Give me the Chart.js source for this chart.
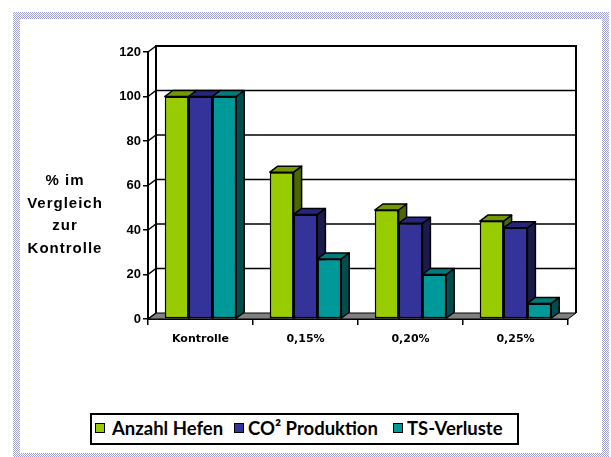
<!DOCTYPE html>
<html lang="de">
<head>
<meta charset="UTF-8">
<title>% im Vergleich zur Kontrolle</title>
<style>
    body { margin: 0; background: #fff; }
    #wrap { position: relative; width: 611px; height: 457px; overflow: hidden; }
    .frame {
        position: absolute; left: 13px; top: 12px; width: 596px; height: 448px;
        background-image: conic-gradient(#a0a0da 25%, #fff 0 50%, #a0a0da 0 75%, #fff 0);
        background-size: 2px 2px;
    }
    .frame-inner { position: absolute; left: 7px; top: 7px; right: 7px; bottom: 7px; background: #fff; }
    #chart { position: absolute; left: 0; top: 0; }
    .ytitle {
        position: absolute; left: 10px; top: 169px; width: 110px;
        text-align: center; font: bold 15px 'Liberation Sans', Arial, sans-serif;
        letter-spacing: 1px; line-height: 22.6px; color: #000;
    }
    .legend {
        position: absolute; left: 90px; top: 413px; width: 425px; height: 28px;
        border: 2px solid #000; background: #fff;
        font: bold 18.5px Lato, 'Open Sans', sans-serif; color: #000;
    }
    .legend .sw { position: absolute; top: 8px; width: 8px; height: 8px; border: 1px solid #000; }
    .legend .lb { position: absolute; top: 3px; line-height: 21px; white-space: nowrap; }
</style>
<script src="https://cdn.jsdelivr.net/npm/chart.js"></script>
</head>
<body>
<div id="wrap">
    <div class="frame"><div class="frame-inner"></div></div>
    <canvas id="chart" width="611" height="457"></canvas>
    <div class="ytitle">% im<br>Vergleich<br>zur<br>Kontrolle</div>
    <div class="legend" id="legend"></div>
</div>
<script>
    // Daten
    const categories = ['Kontrolle', '0,15%', '0,20%', '0,25%'];
    const anzahlHefen = [100, 66, 49, 44];
    const co2Produktion = [100, 47, 43, 41];
    const tsVerluste = [100, 27, 20, 7];
    const seriesNames = ['Anzahl Hefen', 'CO² Produktion', 'TS-Verluste'];
    const yMax = 120;
    const yStep = 20;

    // Farben: Vorderseite, Oberseite, Seite
    const fronts = ['#99cc00', '#333399', '#009999'];
    const tops = ['#739900', '#26267a', '#007a7a'];
    const sides = ['#4d6600', '#1a1a4d', '#004d4d'];

    const DX = 8, DY = -6;

    function poly(ctx, pts, fill) {
        ctx.beginPath();
        ctx.moveTo(pts[0][0], pts[0][1]);
        for (let i = 1; i < pts.length; i++) ctx.lineTo(pts[i][0], pts[i][1]);
        ctx.closePath();
        ctx.fillStyle = fill;
        ctx.fill();
        ctx.stroke();
    }

    // 3D-Wand, Boden und Balkenseiten
    const depth3d = {
        id: 'depth3d',
        beforeDatasetsDraw(chart) {
            const { ctx, chartArea: a, scales: { y } } = chart;
            ctx.save();
            ctx.strokeStyle = '#000';
            ctx.lineWidth = 1;
            poly(ctx, [[a.left, a.bottom], [a.right, a.bottom], [a.right + DX, a.bottom + DY], [a.left + DX, a.bottom + DY]], '#808080');
            ctx.lineWidth = 1.5;
            y.ticks.forEach(t => {
                const py = y.getPixelForValue(t.value);
                ctx.beginPath();
                ctx.moveTo(a.left, py);
                ctx.lineTo(a.left + DX, py + DY);
                if (t.value > 0 && t.value < yMax) ctx.lineTo(a.right + DX, py + DY);
                ctx.stroke();
            });
            ctx.lineWidth = 2;
            ctx.beginPath();
            ctx.moveTo(a.left + DX, a.bottom + DY);
            ctx.lineTo(a.left + DX, a.top + DY);
            ctx.lineTo(a.right + DX, a.top + DY);
            ctx.lineTo(a.right + DX, a.bottom + DY);
            ctx.stroke();
            ctx.restore();
        },
        afterDatasetsDraw(chart) {
            const ctx = chart.ctx;
            ctx.save();
            ctx.lineJoin = 'round';
            chart.data.datasets.forEach((ds, i) => {
                chart.getDatasetMeta(i).data.forEach(bar => {
                    bar.draw(ctx);
                    const { x, y, base, width } = bar.getProps(['x', 'y', 'base', 'width'], true);
                    const x0 = x - width / 2, x1 = x + width / 2;
                    ctx.strokeStyle = '#000';
                    ctx.lineWidth = 1.5;
                    poly(ctx, [[x1, y], [x1 + DX, y + DY], [x1 + DX, base + DY], [x1, base]], sides[i]);
                    poly(ctx, [[x0, y], [x1, y], [x1 + DX, y + DY], [x0 + DX, y + DY]], tops[i]);
                });
            });
            ctx.restore();
        }
    };

    const seriesValues = [anzahlHefen, co2Produktion, tsVerluste];

    new Chart(document.getElementById('chart'), {
        type: 'bar',
        data: {
            labels: categories,
            datasets: seriesValues.map((vals, i) => ({
                label: seriesNames[i],
                data: vals,
                backgroundColor: fronts[i],
                borderColor: '#000',
                borderWidth: 1.5,
                borderSkipped: false,
                categoryPercentage: 0.68,
                barPercentage: 1
            }))
        },
        options: {
            responsive: false,
            animation: false,
            layout: { padding: { top: 52, right: 43, left: 0, bottom: 0 } },
            plugins: { legend: { display: false }, tooltip: { enabled: false } },
            scales: {
                y: {
                    min: 0, max: yMax,
                    afterFit(s) { s.width = 148; },
                    ticks: { stepSize: yStep, color: '#000', padding: 2,
                             font: { family: "'Liberation Sans', Arial, sans-serif", size: 13, weight: 'bold' } },
                    grid: { drawOnChartArea: false, tickLength: 5, color: '#000', lineWidth: 1.5 },
                    border: { color: '#000', width: 2 }
                },
                x: {
                    afterFit(s) { s.height = 138; },
                    ticks: { color: '#000', padding: 8,
                             font: { family: "'DejaVu Sans', sans-serif", size: 11, weight: 'bold' } },
                    grid: { drawOnChartArea: false, tickLength: 6, color: '#000', lineWidth: 1.5, offset: true },
                    border: { color: '#000', width: 2 }
                }
            }
        },
        plugins: [depth3d]
    });

    // Legende
    const legendPos = [[3, 20], [142, 156], [301, 315]];
    const legend = document.getElementById('legend');
    seriesNames.forEach((name, i) => {
        const sw = document.createElement('div');
        sw.className = 'sw';
        sw.style.left = legendPos[i][0] + 'px';
        sw.style.background = fronts[i];
        const lb = document.createElement('div');
        lb.className = 'lb';
        lb.style.left = legendPos[i][1] + 'px';
        lb.textContent = name;
        legend.appendChild(sw);
        legend.appendChild(lb);
    });
</script>
</body>
</html>
